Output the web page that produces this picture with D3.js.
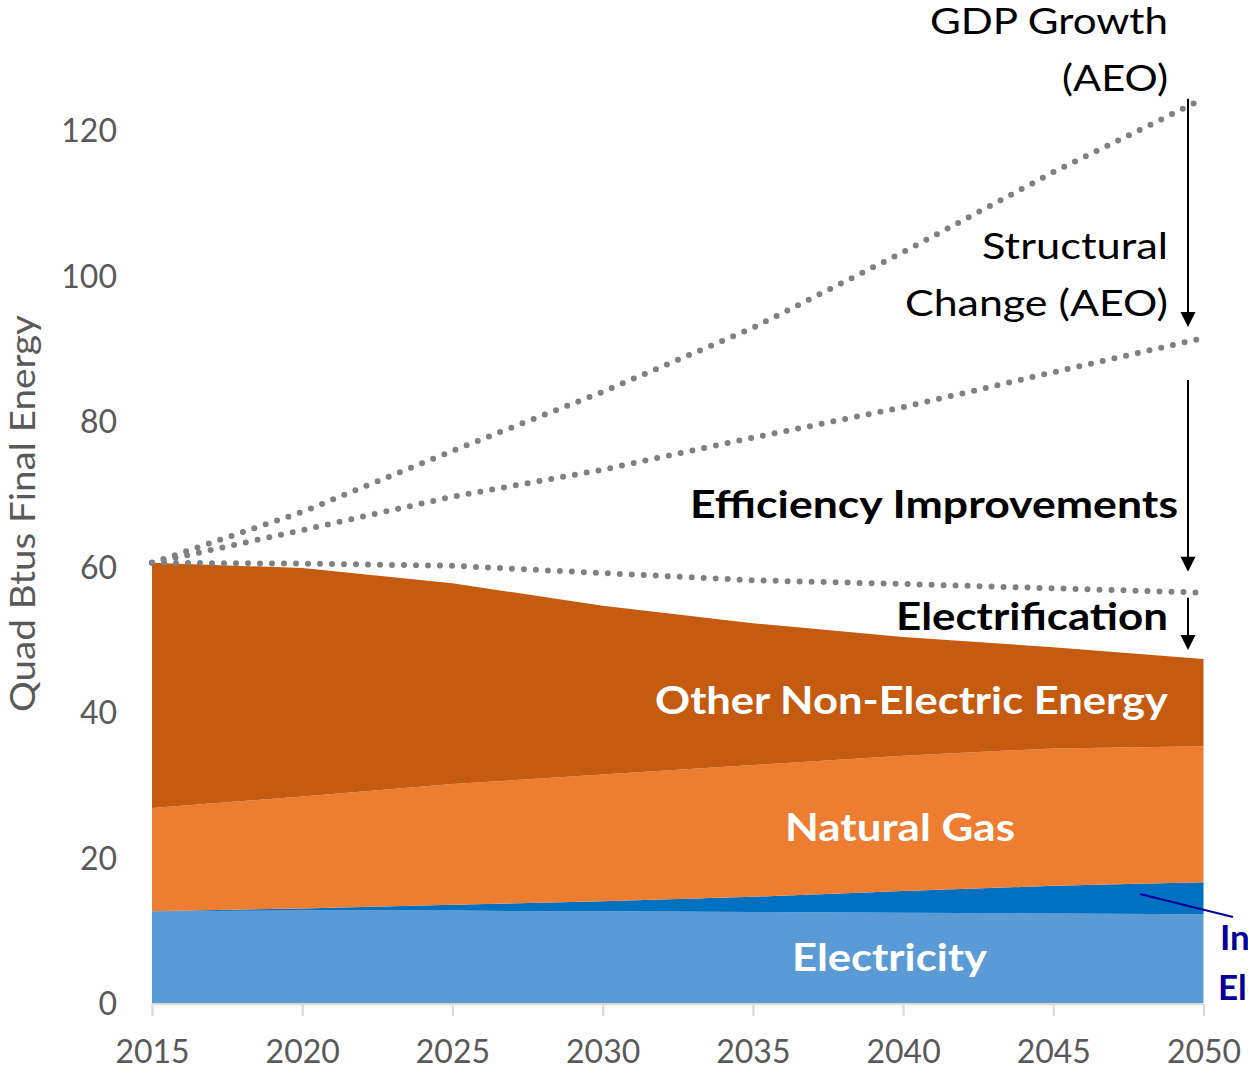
<!DOCTYPE html>
<html>
<head>
<meta charset="utf-8">
<script src="https://cdn.jsdelivr.net/npm/d3@7"></script>
<style>
  html, body { margin: 0; padding: 0; background: #fff; overflow: hidden; }
  svg { display: block; }
  text { font-family: Lato, "Open Sans", "Noto Sans", sans-serif; }
</style>
</head>
<body>
<svg id="chart" width="1248" height="1069"></svg>
<script>
// ---- Data (Quad Btus final energy) ----
const years = [2015, 2020, 2025, 2030, 2035, 2040, 2045, 2050];
const electricity          = [12.6, 12.7, 12.7, 12.6, 12.5, 12.4, 12.3, 12.2];
const increasedElectricity = [0.0, 0.3, 0.8, 1.4, 2.1, 3.0, 3.8, 4.4];
const naturalGas           = [14.2, 15.4, 16.6, 17.4, 18.1, 18.6, 18.9, 18.7];
const otherNonElectric     = [33.7, 31.4, 27.6, 23.2, 19.5, 16.3, 13.9, 12.0];
const gdpGrowth        = [60.5, 67.5, 75.9, 84.0, 92.8, 103.2, 114.2, 124.3];
const structuralChange = [60.5, 65.0, 69.6, 73.3, 77.7, 81.9, 86.7, 91.4];
const efficiencyLine   = [60.5, 60.4, 60.1, 59.1, 58.1, 57.6, 57.0, 56.4];
const yTicks = [0, 20, 40, 60, 80, 100, 120];
const xTicks = [2015, 2020, 2025, 2030, 2035, 2040, 2045, 2050];
const seriesKeys = ["Electricity", "Increased Electricity", "Natural Gas", "Other Non-Electric Energy"];
const seriesColors = ["#5b9bd5", "#0070c0", "#ed7d31", "#c55a11"];

// ---- Build table ----
const rows = years.map((yr, i) => ({
  year: yr,
  "Electricity": electricity[i],
  "Increased Electricity": increasedElectricity[i],
  "Natural Gas": naturalGas[i],
  "Other Non-Electric Energy": otherNonElectric[i]
}));

const svg = d3.select("#chart");
const x = d3.scaleLinear().domain([2015, 2050]).range([152, 1203.5]);
const y = d3.scaleLinear().domain([0, 120]).range([1003, 130]);

// ---- Stacked areas ----
const stacked = d3.stack().keys(seriesKeys)(rows);
const area = d3.area()
  .x(d => x(d.data.year))
  .y0(d => y(d[0]))
  .y1(d => y(d[1]))
  .curve(d3.curveLinear);

svg.append("g").selectAll("path")
  .data(stacked)
  .join("path")
  .attr("d", area)
  .attr("fill", (d, i) => seriesColors[i]);

// ---- X axis ----
const xAxis = d3.axisBottom(x).tickValues(xTicks).tickFormat(d3.format("d")).tickSize(12).tickPadding(24);
const gx = svg.append("g").attr("transform", `translate(0,${y(0) + 1})`).call(xAxis);
gx.select(".domain").attr("stroke", "#d9d9d9").attr("stroke-width", 2.2)
  .attr("d", `M${x(2015)},0H${x(2050)}`);
gx.selectAll(".tick line").attr("stroke", "#d9d9d9").attr("stroke-width", 2.2);
gx.selectAll(".tick text")
  .attr("fill", "#595959")
  .attr("font-size", 32)
  .attr("font-family", "Lato, 'Open Sans', sans-serif")
  .attr("dy", "0.71em");

// ---- Y axis (labels only) ----
const yAxis = d3.axisLeft(y).tickValues(yTicks).tickSize(0).tickPadding(0);
const gy = svg.append("g").attr("transform", `translate(117,0)`).call(yAxis);
gy.select(".domain").remove();
gy.selectAll(".tick text")
  .attr("fill", "#595959")
  .attr("font-size", 32)
  .attr("font-family", "Lato, 'Open Sans', sans-serif")
  .attr("dy", "0.36em");

// Y-axis title
svg.append("text")
  .attr("transform", `translate(35,${(315 + 712) / 2}) rotate(-90)`)
  .attr("text-anchor", "middle")
  .attr("fill", "#595959")
  .attr("font-size", 34)
  .attr("textLength", 397)
  .attr("lengthAdjust", "spacingAndGlyphs")
  .text("Quad Btus Final Energy");

// ---- Dotted scenario lines ----
const line = d3.line().x((d, i) => x(years[i])).y(d => y(d)).curve(d3.curveLinear);
svg.append("g").selectAll("path")
  .data([gdpGrowth, structuralChange, efficiencyLine])
  .join("path")
  .attr("d", line)
  .attr("fill", "none")
  .attr("stroke", "#808080")
  .attr("stroke-width", 6)
  .attr("stroke-linecap", "round")
  .attr("stroke-dasharray", "0 12");

// ---- Arrows ----
const ax = x(2050) - 15.5;
const n = years.length - 1;
const arrows = [
  [y(gdpGrowth[n]) + 0, y(structuralChange[n]) - 11],
  [y(structuralChange[n]) + 42, y(efficiencyLine[n]) - 21],
  [y(efficiencyLine[n]) + 5, y(d3.sum([electricity[n], increasedElectricity[n], naturalGas[n], otherNonElectric[n]])) - 9]
];
arrows.forEach(([y1, y2]) => {
  svg.append("line")
    .attr("x1", ax).attr("x2", ax)
    .attr("y1", y1).attr("y2", y2 - 14)
    .attr("stroke", "#000").attr("stroke-width", 2);
  svg.append("path")
    .attr("d", `M${ax - 7.5},${y2 - 15}L${ax + 7.5},${y2 - 15}L${ax},${y2}Z`)
    .attr("fill", "#000");
});

// ---- Annotation text ----
function label(txt, x0, base, width, size, weight, color) {
  svg.append("text")
    .attr("x", x0).attr("y", base)
    .attr("font-size", size)
    .attr("font-weight", weight)
    .attr("fill", color)
    .attr("textLength", width)
    .attr("lengthAdjust", "spacingAndGlyphs")
    .text(txt);
}
label("GDP Growth", 930, 34, 238, 37, 400, "#000");
label("(AEO)", 1062, 91, 106, 37, 400, "#000");
label("Structural", 982, 259, 186, 37, 400, "#000");
label("Change (AEO)", 905, 316, 263, 37, 400, "#000");
label("Efficiency Improvements", 690, 518, 488, 38, 700, "#000");
label("Electrification", 896, 630, 272, 38, 700, "#000");
label("Other Non-Electric Energy", 655, 714, 513, 38, 700, "#fff");
label("Natural Gas", 785, 841, 230, 38, 700, "#fff");
label("Electricity", 792, 971, 195, 38, 700, "#fff");

// Increased Electricity callout (runs off the right edge, as in the original)
svg.append("line")
  .attr("x1", 1140).attr("y1", 894)
  .attr("x2", 1233).attr("y2", 917)
  .attr("stroke", "#000099").attr("stroke-width", 2);
svg.append("text")
  .attr("x", 1220).attr("y", 950)
  .attr("font-size", 35).attr("font-weight", 700).attr("fill", "#000099")
  .text("Increased");
svg.append("text")
  .attr("x", 1218).attr("y", 1000)
  .attr("font-size", 35).attr("font-weight", 700).attr("fill", "#000099")
  .text("Electricity");
</script>
</body>
</html>
